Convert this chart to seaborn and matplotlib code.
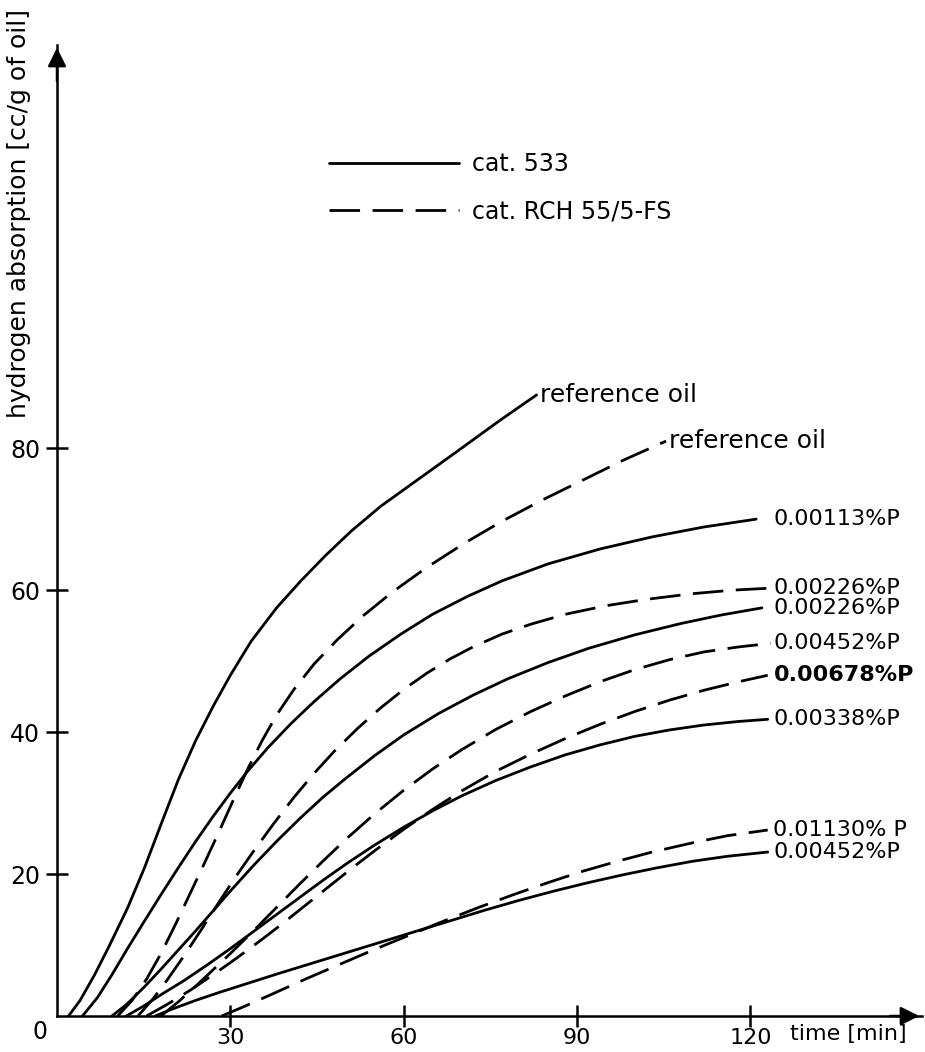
import pandas as pd
import seaborn as sns
import matplotlib.pyplot as plt

# curves: time [min] -> absorption [cc/g of oil]
# cat. 533 (solid)
ref533_t = [2, 4, 6.5, 9, 12.2, 15.1, 18, 21, 24, 27, 30, 33.6, 38, 42.2, 46.5, 50.9, 56, 62.5, 69, 76.8, 83]
ref533_v = [0, 2.2, 5.8, 9.8, 15.2, 20.8, 27, 33.3, 38.8, 43.6, 48, 52.8, 57.5, 61.3, 64.9, 68.3, 71.8, 75.6, 79.4, 84, 87.5]
p113_t = [4.4, 7, 9.5, 12.2, 15, 18, 21, 24, 27, 30, 33, 36.5, 40.5, 44.5, 49, 54, 59.5, 65, 71, 77, 85, 94, 103, 112, 121]
p113_v = [0, 2.6, 5.8, 9.5, 13.2, 17.1, 20.9, 24.6, 28.1, 31.4, 34.5, 37.8, 41.2, 44.3, 47.5, 50.7, 53.8, 56.6, 59.1, 61.3, 63.7, 65.8, 67.5, 68.9, 70]
p226s_t = [9.5, 12, 15, 18, 21, 24, 27, 30, 34, 38, 42, 46, 50, 55, 60, 66, 72, 78, 85, 92, 100, 108, 115, 122]
p226s_v = [0, 1.6, 4, 6.6, 9.3, 12, 14.8, 17.6, 21.2, 24.6, 27.8, 30.8, 33.5, 36.7, 39.6, 42.6, 45.2, 47.5, 49.8, 51.8, 53.7, 55.3, 56.5, 57.5]
p338_t = [12, 15, 18, 22, 26, 30, 34, 38, 42, 46, 50, 55, 60, 65, 70, 76, 82, 88, 94, 100, 106, 112, 118, 123]
p338_v = [0, 1.4, 3, 5, 7.2, 9.5, 11.9, 14.3, 16.7, 19.1, 21.4, 24.1, 26.6, 28.9, 31, 33.2, 35.1, 36.8, 38.2, 39.4, 40.3, 41, 41.5, 41.8]
p452s_t = [17, 20, 24, 28, 33, 38, 44, 50, 56, 62, 68, 74, 80, 86, 92, 98, 104, 110, 116, 123]
p452s_v = [0, 1, 2.2, 3.3, 4.6, 5.9, 7.4, 8.9, 10.4, 11.9, 13.4, 14.9, 16.3, 17.6, 18.8, 19.9, 20.9, 21.8, 22.5, 23.1]

# cat. RCH 55/5-FS (dashed)
refrch_t = [10.5, 13, 15.5, 18, 20.5, 23, 25.5, 28, 30.5, 33, 35.5, 38, 41, 44.5, 48.5, 53, 58, 64, 70.5, 77, 84, 91, 98, 105.4]
refrch_v = [0, 2.2, 5.2, 8.8, 12.9, 17.2, 21.5, 25.9, 30.4, 34.8, 38.8, 42.4, 46, 49.6, 53, 56.4, 59.7, 63.2, 66.6, 69.7, 72.7, 75.5, 78.3, 81]
p226d_t = [14, 16.5, 19, 22, 25, 28, 31, 34, 37.5, 41, 44.5, 48, 52, 56, 60, 64, 68, 72, 77, 82, 88, 95, 102, 110, 117, 124]
p226d_v = [0, 2.3, 5, 8.5, 12.2, 16, 19.7, 23.2, 27.1, 30.8, 34.2, 37.3, 40.5, 43.4, 46, 48.3, 50.3, 52, 53.8, 55.2, 56.6, 57.8, 58.7, 59.5, 60, 60.3]
p452d_t = [18, 21, 24, 27, 30, 34, 38, 42, 46, 50, 55, 60, 65, 70, 76, 82, 88, 94, 100, 106, 112, 118, 123.5]
p452d_v = [0, 2, 4.2, 6.5, 8.8, 12, 15.3, 18.6, 21.8, 24.9, 28.5, 31.8, 34.8, 37.5, 40.4, 42.9, 45.1, 47.1, 48.8, 50.2, 51.3, 52, 52.5]
p678_t = [15.5, 19, 23, 27, 31, 35, 39, 43, 47, 51, 55, 60, 65, 70, 76, 82, 88, 94, 100, 106, 112, 118, 123]
p678_v = [0, 1.6, 3.6, 5.8, 8.1, 10.5, 13, 15.6, 18.2, 20.8, 23.3, 26.3, 29.1, 31.7, 34.5, 36.9, 39.1, 41.1, 42.9, 44.5, 45.9, 47.1, 48]
p1130_t = [28.5, 32, 37, 43, 49, 55, 61, 67, 73, 79, 85, 91, 97, 103, 110, 116, 123]
p1130_v = [0, 1.2, 3, 5.2, 7.3, 9.4, 11.4, 13.4, 15.3, 17.1, 18.8, 20.4, 21.8, 23.1, 24.4, 25.4, 26.2]

catalysts = ["cat. 533", "cat. RCH 55/5-FS"]
x_ticks = [30, 60, 90, 120]
y_ticks = [20, 40, 60, 80]

curves = [
    ("ref533", catalysts[0], ref533_t, ref533_v, "reference oil"),
    ("refrch", catalysts[1], refrch_t, refrch_v, "reference oil"),
    ("p113", catalysts[0], p113_t, p113_v, "0.00113%P"),
    ("p226d", catalysts[1], p226d_t, p226d_v, "0.00226%P"),
    ("p226s", catalysts[0], p226s_t, p226s_v, "0.00226%P"),
    ("p452d", catalysts[1], p452d_t, p452d_v, "0.00452%P"),
    ("p678", catalysts[1], p678_t, p678_v, "0.00678%P"),
    ("p338", catalysts[0], p338_t, p338_v, "0.00338%P"),
    ("p1130", catalysts[1], p1130_t, p1130_v, "0.01130% P"),
    ("p452s", catalysts[0], p452s_t, p452s_v, "0.00452%P"),
]

rows = []
for name, cat, ts, vs, lab in curves:
    for t, v in zip(ts, vs):
        rows.append({"time": t, "absorption": v, "curve": name, "catalyst": cat})
df = pd.DataFrame(rows)

sns.set_theme(style="ticks", rc={
    "axes.edgecolor": "black", "xtick.color": "black", "ytick.color": "black",
    "text.color": "black", "axes.labelcolor": "black",
})
plt.rcParams["font.family"] = ["DejaVu Sans"]

W, H = 925, 1052
fig = plt.figure(figsize=(W / 100, H / 100), dpi=100)
ax = fig.add_axes([57 / W, 36 / H, 865 / W, 971 / H])

sns.lineplot(data=df, x="time", y="absorption", units="curve", estimator=None,
             style="catalyst", style_order=catalysts,
             dashes={catalysts[0]: "", catalysts[1]: (11, 4.5)},
             color="black", linewidth=2.0, sort=False, ax=ax)

ax.set_xlim(0, 149.7)
ax.set_ylim(0, 136.8)
ax.set_xticks(x_ticks)
ax.set_yticks(y_ticks)
ax.tick_params(axis="both", direction="inout", length=16, width=1.8,
               labelsize=16, pad=1)
ax.tick_params(axis="y", pad=4, labelsize=17)
ax.set_xlabel("")
ax.set_ylabel("")
sns.despine(ax=ax)
for s in ["left", "bottom"]:
    ax.spines[s].set_linewidth(1.8)

# arrow heads on the axes
arrow = dict(arrowstyle="-|>", color="black", lw=1.8, mutation_scale=28)
ax.annotate("", xy=(0, 1), xytext=(0, 0.96), xycoords="axes fraction", arrowprops=arrow)
ax.annotate("", xy=(1, 0), xytext=(0.96, 0), xycoords="axes fraction", arrowprops=arrow)

ax.text(-3, -0.5, "0", ha="center", va="top", fontsize=17)
ax.text(126.8, -1.1, "time [min]", ha="left", va="top", fontsize=16, clip_on=False)
fig.text(19 / W, 1 - 9 / H, "hydrogen absorption [cc/g of oil]", rotation=90,
         ha="center", va="top", fontsize=18)

# curve labels at the line ends
for name, cat, ts, vs, lab in curves:
    if lab == "reference oil":
        ax.text(ts[-1] + 0.6, vs[-1], lab, ha="left", va="center", fontsize=18,
                clip_on=False)
    else:
        weight = "bold" if name == "p678" else "normal"
        ax.text(124, vs[-1], lab, ha="left", va="center", fontsize=16,
                fontweight=weight, clip_on=False)

handles, labels = ax.get_legend_handles_labels()
for h in handles:
    h.set_color("black")
    h.set_linewidth(2.0)
ax.legend(handles, labels, loc="upper left", bbox_to_anchor=(329 / W, 1 - 152 / H),
          bbox_transform=fig.transFigure, frameon=False, borderpad=0,
          borderaxespad=0, fontsize=17, handlelength=5.5, handletextpad=0.55,
          labelspacing=1.0)

fig.savefig("out.png", dpi=100)
